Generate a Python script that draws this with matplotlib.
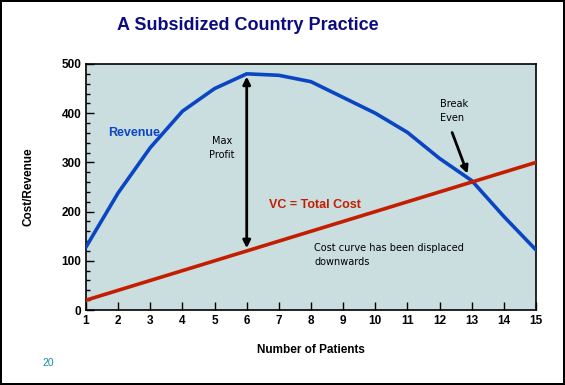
import matplotlib.pyplot as plt
from matplotlib.ticker import MultipleLocator

patients = list(range(1, 16))
revenue = [128, 238, 330, 404, 450, 480, 477, 464, 432, 400, 361, 308, 263, 190, 122]
total_cost = [20, 40, 60, 80, 100, 120, 140, 160, 180, 200, 220, 240, 260, 280, 300]

plt.rcParams['font.family'] = ['Liberation Sans', 'DejaVu Sans']

fig = plt.figure(figsize=(5.65, 3.85), dpi=100)
fig.patch.set_facecolor('white')
fig.patch.set_edgecolor('black')
fig.patch.set_linewidth(1.5)
ax = fig.add_axes([0.1522, 0.1948, 0.7965, 0.639])
ax.set_facecolor('#cadddf')

ax.plot(patients, revenue, color='#0a46c4', lw=2.6, zorder=3)
ax.plot(patients, total_cost, color='#c41e00', lw=2.6, zorder=3)

ax.set_xlim(1, 15)
ax.set_ylim(0, 500)
ax.set_xticks(patients)
ax.yaxis.set_major_locator(MultipleLocator(100))
ax.yaxis.set_minor_locator(MultipleLocator(20))
ax.tick_params(direction='in', length=6, width=1, labelsize=8.5)
ax.tick_params(which='minor', direction='in', length=3, width=1)
for lbl in ax.get_xticklabels() + ax.get_yticklabels():
    lbl.set_fontweight('bold')
for s in ax.spines.values():
    s.set_linewidth(1.2)

ax.set_xlabel('Number of Patients', fontsize=8.5, fontweight='bold', labelpad=12)
ax.set_ylabel('Cost/Revenue', fontsize=8.5, fontweight='bold', labelpad=19)

fig.text(0.439, 0.935, 'A Subsidized Country Practice', ha='center', va='center',
         fontsize=13, fontweight='bold', color='#0c0c80')

small = dict(fontsize=7, family=['DejaVu Sans'], linespacing=1.5)

# max profit double arrow
ax.annotate('', xy=(6, 480), xytext=(6, 120),
            arrowprops=dict(arrowstyle='<|-|>', color='black', lw=2, mutation_scale=11))
ax.text(5.23, 329, 'Max\nProfit', ha='center', va='center', **small)

# break even arrow
ax.annotate('', xy=(12.9, 272), xytext=(12.36, 366),
            arrowprops=dict(arrowstyle='-|>', color='black', lw=2, mutation_scale=11))
ax.text(12.0, 404, 'Break\nEven', ha='left', va='center', **small)

ax.text(1.68, 360, 'Revenue', color='#0a46c4', fontsize=9, fontweight='bold', va='center')
ax.text(6.7, 213, 'VC = Total Cost', color='#c41e00', fontsize=9, fontweight='bold', va='center')
ax.text(8.1, 112, 'Cost curve has been displaced\ndownwards', va='center', **small)

fig.text(42 / 565, 1 - 363 / 385, '20', color='#1a8aa8', fontsize=7.5, va='center')

fig.savefig('out.png', dpi=100)
